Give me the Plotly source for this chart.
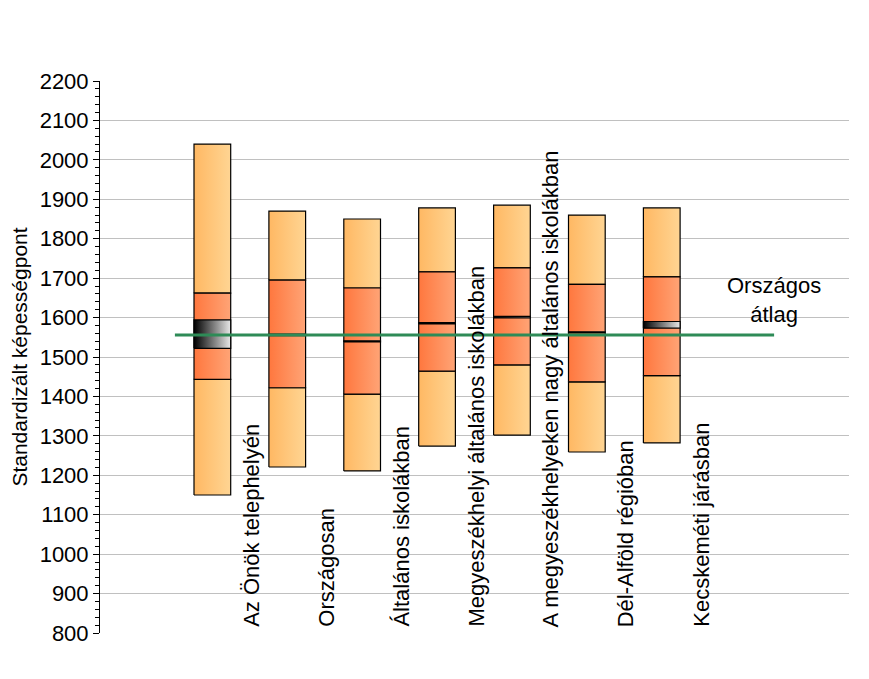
import plotly.graph_objects as go

categories = ["Az Önök telephelyén", "Országosan", "Általános iskolákban",
              "Megyeszékhelyi általános iskolákban",
              "A megyeszékhelyeken nagy általános iskolákban",
              "Dél-Alföld régióban", "Kecskeméti járásban"]
p_low = [1150, 1221, 1211, 1274, 1302, 1259, 1282]
q_low = [1443, 1422, 1406, 1464, 1480, 1437, 1453]
q_high = [1662, 1695, 1675, 1716, 1726, 1684, 1703]
p_high = [2040, 1870, 1850, 1878, 1885, 1860, 1878]
ci_low = [1522, 1554, 1538, 1584, 1599, 1561, 1573]
ci_high = [1594, 1558, 1541, 1587, 1603, 1564, 1590]
national_avg = 1556
avg_label = "Országos<br>átlag"
y_title = "Standardizált képességpont"

positions = [1.5 + i for i in range(len(categories))]
half_w = 0.245

light = [[0, "#FFB863"], [1, "#FFD593"]]
dark = [[0, "#FF773E"], [1, "#FFA476"]]
band = [[0, "#000000"], [1, "#E8E8E8"]]

FONT = "Arial, Liberation Sans, sans-serif"

fig = go.Figure()

def rect(xc, y0, y1, scale):
    xs = [xc - half_w, xc + half_w, xc + half_w, xc - half_w, xc - half_w]
    ys = [y0, y0, y1, y1, y0]
    fig.add_trace(go.Scatter(
        x=xs, y=ys, mode="lines", fill="toself",
        fillgradient=dict(type="horizontal", colorscale=scale),
        line=dict(color="black", width=1.2),
        showlegend=False, hoverinfo="skip"))

for i, xc in enumerate(positions):
    rect(xc, p_low[i], q_low[i], light)
    rect(xc, q_high[i], p_high[i], light)
    rect(xc, q_low[i], q_high[i], dark)
    rect(xc, ci_low[i], ci_high[i], band)

fig.add_trace(go.Scatter(
    x=[1.0, 9.0], y=[national_avg, national_avg], mode="lines",
    line=dict(color="#2E8B57", width=3), showlegend=False, hoverinfo="skip"))

for i, xc in enumerate(positions):
    fig.add_annotation(x=xc + 0.52, y=800, xref="x", yref="y",
                       text=categories[i], textangle=-90, showarrow=False,
                       xanchor="center", yanchor="bottom", yshift=4,
                       font=dict(size=22, color="black", family=FONT))

fig.add_annotation(x=9.0, y=1645, xref="x", yref="y", text=avg_label,
                   showarrow=False, align="center",
                   font=dict(size=22, color="black", family=FONT))

fig.update_layout(
    width=861, height=671,
    margin=dict(l=92, r=20, t=73, b=46),
    plot_bgcolor="white", paper_bgcolor="white",
    font=dict(family=FONT, size=22, color="black"),
    xaxis=dict(range=[0, 10], showgrid=False, zeroline=False,
               showticklabels=False, ticks="", showline=False, fixedrange=True,
               automargin=False),
    yaxis=dict(range=[800, 2200], dtick=100, tick0=800, automargin=False,
               showgrid=True, gridcolor="#C0C0C0", gridwidth=1,
               zeroline=False, showline=True, linecolor="black", linewidth=1,
               ticks="outside", ticklen=6, tickcolor="black",
               minor=dict(dtick=20, ticks="outside", ticklen=4,
                          tickcolor="black", showgrid=False),
               title=dict(text=y_title, font=dict(size=21), standoff=7),
               tickfont=dict(size=22)),
)

fig.write_html("out.html")
